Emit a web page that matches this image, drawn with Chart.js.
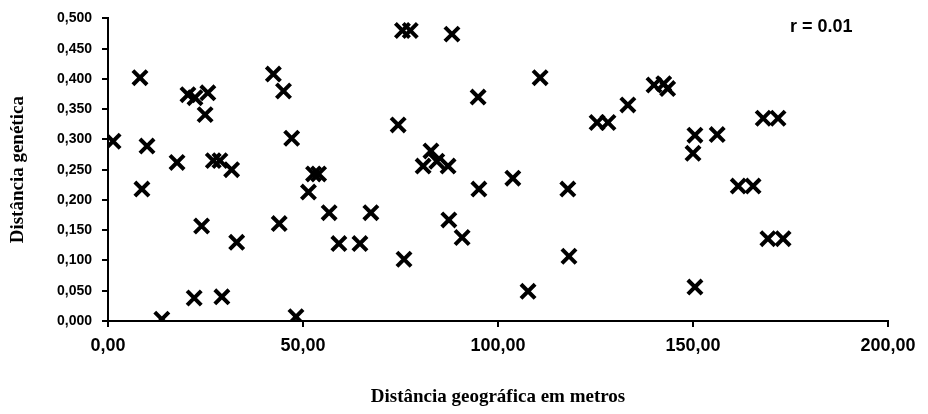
<!DOCTYPE html>
<html>
<head>
<meta charset="utf-8">
<script src="https://cdn.jsdelivr.net/npm/chart.js@4/dist/chart.umd.min.js"></script>
<style>
  html, body { margin: 0; padding: 0; background: #fff; }
  #chart { display: block; }
</style>
</head>
<body>
<canvas id="chart" width="928" height="414"></canvas>
<script>
// Distância geográfica (m) x distância genética
const geoDist = [
  1.3, 8.2, 10, 8.7, 17.7, 20.5, 22.3, 25.6, 24.9, 27,
  28.7, 31.7, 24, 33, 22.1, 29.2, 13.8, 42.4, 45, 47.1,
  43.9, 48.2, 51.4, 52.7, 54, 56.7, 59.2, 64.6, 67.4, 74.4,
  75.5, 77.5, 75.9, 80.8, 82.8, 84.3, 87.2, 87.4, 88.2, 90.8,
  94.9, 95.1, 103.8, 107.7, 110.8, 117.9, 118.2, 125.4, 128.2, 133.3,
  140, 142.5, 143.5, 150, 150.5, 150.5, 156.2, 161.6, 165.4, 168,
  171.8, 169.2, 173.1
];
const genDist = [
  0.297, 0.402, 0.289, 0.218, 0.262, 0.374, 0.369, 0.377, 0.341, 0.265,
  0.265, 0.250, 0.157, 0.130, 0.038, 0.040, 0.003, 0.408, 0.380, 0.302,
  0.161, 0.007, 0.213, 0.243, 0.243, 0.179, 0.128, 0.128, 0.179, 0.324,
  0.480, 0.480, 0.102, 0.256, 0.281, 0.264, 0.256, 0.167, 0.474, 0.138,
  0.370, 0.218, 0.236, 0.049, 0.402, 0.218, 0.107, 0.328, 0.328, 0.357,
  0.390, 0.392, 0.384, 0.277, 0.307, 0.056, 0.308, 0.223, 0.223, 0.335,
  0.335, 0.136, 0.136
];
const xTicks = { min: 0, max: 200, step: 50 };
const yTicks = { min: 0, max: 0.5, step: 0.05 };
const corrLabel = 'r = 0.01';
const xTitle = 'Distância geográfica em metros';
const yTitle = 'Distância genética';

const points = geoDist.map((x, i) => ({ x: x, y: genDist[i] }));

// annotation "r = 0.01" top right
const corrText = {
  id: 'corrText',
  afterDraw(chart) {
    const c = chart.ctx;
    c.save();
    c.font = 'bold 18px "Liberation Sans", Arial, sans-serif';
    c.fillStyle = '#000';
    c.textBaseline = 'middle';
    c.fillText(corrLabel, 790, 27);
    c.restore();
  }
};

const tickFontSans = { family: '"Liberation Sans", Arial, sans-serif', weight: 'bold' };
const titleFontSerif = { family: '"Liberation Serif", "Times New Roman", serif', weight: 'bold', size: 19 };

new Chart(document.getElementById('chart').getContext('2d'), {
  type: 'scatter',
  data: {
    datasets: [{
      data: points,
      pointStyle: 'crossRot',
      pointRadius: 10,
      pointBorderWidth: 4,
      borderColor: '#000',
      backgroundColor: '#000'
    }]
  },
  options: {
    responsive: false,
    devicePixelRatio: 1,
    animation: false,
    layout: { padding: { top: 16, right: 40, left: 0, bottom: 0 } },
    plugins: {
      legend: { display: false },
      tooltip: { enabled: false }
    },
    scales: {
      x: {
        type: 'linear',
        min: xTicks.min,
        max: xTicks.max,
        afterFit(scale) { scale.height = 93; },
        border: { display: true, color: '#000', width: 2 },
        grid: { drawOnChartArea: false, drawTicks: true, tickLength: 6, color: '#000', lineWidth: 2 },
        ticks: {
          stepSize: xTicks.step,
          color: '#000',
          padding: 8,
          maxRotation: 0,
          font: Object.assign({ size: 18 }, tickFontSans),
          callback: v => v.toFixed(2).replace('.', ',')
        },
        title: { display: true, text: xTitle, color: '#000', font: titleFontSerif, padding: { top: 0, bottom: 6 } }
      },
      y: {
        type: 'linear',
        min: yTicks.min,
        max: yTicks.max,
        afterFit(scale) { scale.width = 108; },
        border: { display: true, color: '#000', width: 2 },
        grid: { drawOnChartArea: false, drawTicks: true, tickLength: 6, color: '#000', lineWidth: 2 },
        ticks: {
          stepSize: yTicks.step,
          color: '#000',
          padding: 10,
          font: Object.assign({ size: 14 }, tickFontSans),
          callback: v => v.toFixed(3).replace('.', ',')
        },
        title: { display: true, text: yTitle, color: '#000', font: titleFontSerif, padding: { top: 7, bottom: 0 } }
      }
    }
  },
  plugins: [corrText]
});
</script>
</body>
</html>
